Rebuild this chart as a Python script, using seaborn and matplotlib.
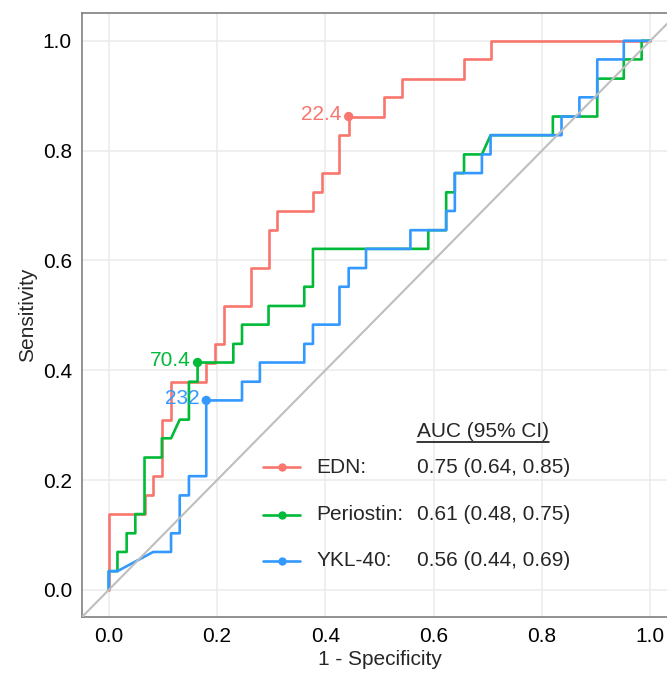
import matplotlib
matplotlib.use("Agg")
import matplotlib.pyplot as plt
import pandas as pd
import seaborn as sns

# ROC step curves (1 - specificity, sensitivity)
markers = ["EDN", "Periostin", "YKL-40"]
colors = ["#F8766D", "#00BA38", "#3399FF"]
auc_text = ["0.75 (0.64, 0.85)", "0.61 (0.48, 0.75)", "0.56 (0.44, 0.69)"]

edn_fpr = [0, 0, 0.066, 0.066, 0.082, 0.082, 0.098, 0.098, 0.115, 0.115,
           0.180, 0.180, 0.197, 0.197, 0.213, 0.213, 0.262, 0.262, 0.295,
           0.295, 0.311, 0.311, 0.377, 0.377, 0.393, 0.393, 0.426, 0.426,
           0.443, 0.443, 0.508, 0.508, 0.541, 0.541, 0.656, 0.656, 0.705,
           0.705, 1.0]
edn_tpr = [0, 0.138, 0.138, 0.172, 0.172, 0.207, 0.207, 0.310, 0.310, 0.379,
           0.379, 0.414, 0.414, 0.448, 0.448, 0.517, 0.517, 0.586, 0.586,
           0.655, 0.655, 0.690, 0.690, 0.724, 0.724, 0.759, 0.759, 0.828,
           0.828, 0.862, 0.862, 0.897, 0.897, 0.931, 0.931, 0.966, 0.966,
           1.0, 1.0]

peri_fpr = [0, 0, 0.016, 0.016, 0.033, 0.033, 0.049, 0.049, 0.066, 0.066,
            0.098, 0.098, 0.115, 0.131, 0.148, 0.148, 0.164, 0.164, 0.230,
            0.230, 0.246, 0.246, 0.295, 0.295, 0.361, 0.361, 0.377, 0.377,
            0.590, 0.590, 0.623, 0.623, 0.639, 0.639, 0.656, 0.656, 0.689,
            0.705, 0.820, 0.820, 0.902, 0.902, 0.951, 0.951, 0.984, 0.984,
            1.0]
peri_tpr = [0, 0.034, 0.034, 0.069, 0.069, 0.103, 0.103, 0.138, 0.138,
            0.241, 0.241, 0.276, 0.276, 0.310, 0.310, 0.379, 0.379, 0.414,
            0.414, 0.448, 0.448, 0.483, 0.483, 0.517, 0.517, 0.552, 0.552,
            0.621, 0.621, 0.655, 0.655, 0.724, 0.724, 0.759, 0.759, 0.793,
            0.793, 0.828, 0.828, 0.862, 0.862, 0.931, 0.931, 0.966, 0.966,
            1.0, 1.0]

ykl_fpr = [0, 0, 0.016, 0.082, 0.115, 0.115, 0.131, 0.131, 0.148, 0.148,
           0.180, 0.180, 0.246, 0.246, 0.279, 0.279, 0.361, 0.361, 0.377,
           0.377, 0.426, 0.426, 0.443, 0.443, 0.475, 0.475, 0.557, 0.557,
           0.623, 0.623, 0.639, 0.639, 0.689, 0.689, 0.705, 0.705, 0.836,
           0.836, 0.869, 0.869, 0.902, 0.902, 0.951, 0.951, 1.0]
ykl_tpr = [0, 0.034, 0.034, 0.069, 0.069, 0.103, 0.103, 0.172, 0.172, 0.207,
           0.207, 0.345, 0.345, 0.379, 0.379, 0.414, 0.414, 0.448, 0.448,
           0.483, 0.483, 0.552, 0.552, 0.586, 0.586, 0.621, 0.621, 0.655,
           0.655, 0.690, 0.690, 0.759, 0.759, 0.793, 0.793, 0.828, 0.828,
           0.862, 0.862, 0.897, 0.897, 0.966, 0.966, 1.0, 1.0]

# best cut-off points
cut_fpr = [0.443, 0.164, 0.180]
cut_tpr = [0.862, 0.414, 0.345]
cut_labels = ["22.4", "70.4", "232"]

frames = []
for name, fx, ty in zip(markers, [edn_fpr, peri_fpr, ykl_fpr],
                        [edn_tpr, peri_tpr, ykl_tpr]):
    frames.append(pd.DataFrame({"fpr": fx, "tpr": ty, "marker": name}))
roc = pd.concat(frames, ignore_index=True)
cuts = pd.DataFrame({"fpr": cut_fpr, "tpr": cut_tpr, "marker": markers})

sns.set_theme(style="white")
plt.rcParams["font.family"] = ["Liberation Sans", "DejaVu Sans"]

fig = plt.figure(figsize=(6.67, 6.73), dpi=100)
W, H = 667, 673
# panel extends slightly past the right edge, as in the reference crop
ax = fig.add_axes([81.7 / W, (H - 617.3) / H, (677.4 - 81.7) / W,
                   (617.3 - 13.3) / H])

pal = dict(zip(markers, colors))
sns.lineplot(data=roc, x="fpr", y="tpr", hue="marker", hue_order=markers,
             palette=pal, sort=False, estimator=None, linewidth=1.9,
             legend=False, ax=ax, zorder=2)
ax.axline((0, 0), (1, 1), color="#BEBEBE", linewidth=1.5, zorder=3)
sns.scatterplot(data=cuts, x="fpr", y="tpr", hue="marker", hue_order=markers,
                palette=pal, s=45, edgecolor="none", legend=False, ax=ax,
                zorder=4)
for x, y, lab, c in zip(cut_fpr, cut_tpr, cut_labels, colors):
    ax.text(x - 0.013, y + 0.004, lab, color=c, fontsize=15, ha="right",
            va="center", zorder=5)

ax.set_xlim(-0.05, 1.05)
ax.set_ylim(-0.05, 1.05)
ticks = [0.0, 0.2, 0.4, 0.6, 0.8, 1.0]
ax.set_xticks(ticks)
ax.set_yticks(ticks)
ax.set_xticklabels([f"{t:.1f}" for t in ticks])
ax.set_yticklabels([f"{t:.1f}" for t in ticks])
ax.tick_params(length=0, labelsize=15, labelcolor="black", pad=7)
ax.grid(True, color="#EBEBEB", linewidth=1.1, zorder=0)
ax.set_axisbelow(True)
for side in ["left", "bottom", "top"]:
    ax.spines[side].set_color("#7F7F7F")
    ax.spines[side].set_linewidth(1.2)
ax.spines["right"].set_visible(False)
ax.set_xlabel("1 - Specificity", fontsize=15, labelpad=3)
ax.set_ylabel("Sensitivity", fontsize=15, labelpad=4)

# hand-made legend with AUC column
row_y = [0.223, 0.137, 0.053]
for name, auc, c, y in zip(markers, auc_text, colors, row_y):
    ax.plot([0.285, 0.354], [y, y], color=c, linewidth=1.9, zorder=5)
    ax.plot([0.320], [y], "o", color=c, markersize=5, zorder=5)
    ax.text(0.383, y, name + ":", fontsize=15, va="center", zorder=5)
    ax.text(0.569, y, auc, fontsize=15, va="center", zorder=5)
head = ax.text(0.569, 0.288, "AUC (95% CI)", fontsize=15, va="center",
               zorder=5)
fig.canvas.draw()
bb = head.get_window_extent().transformed(ax.transData.inverted())
ax.plot([bb.x0, bb.x1], [0.270, 0.270], color="black", linewidth=1.1,
        zorder=5)

fig.savefig("out.png", dpi=100)
